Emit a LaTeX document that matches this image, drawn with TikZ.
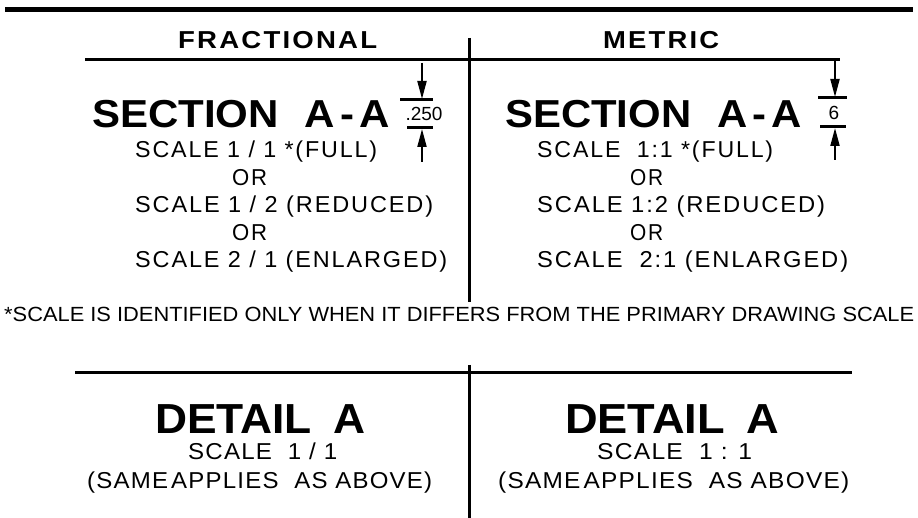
\documentclass[tikz,border=0pt]{standalone}
\usepackage{graphicx}
\usepackage{fontspec}
\setmainfont{Liberation Sans}
\newfontfamily\sparse[LetterSpace=8]{Liberation Sans}
\newfontfamily\lsparse[LetterSpace=5]{Liberation Sans}
\newfontfamily\hsparse[LetterSpace=8]{Liberation Sans}
\usetikzlibrary{arrows.meta}
\newsavebox\fitbox
\newcommand\fitw[2]{\sbox\fitbox{#2}\pgfmathsetmacro\fitfac{#1/\the\wd\fitbox}\scalebox{\fitfac}[1]{\usebox\fitbox}}
\newcommand\hdrfont{\fontsize{24.5}{25}\selectfont\hsparse\bfseries}
\newcommand\secfont{\fontsize{39}{40}\selectfont\bfseries}
\newcommand\scfont{\fontsize{23}{23}\selectfont\sparse}
\newcommand\dimfont{\fontsize{19}{19}\selectfont}
\newcommand\notefont{\fontsize{20.5}{20.5}\selectfont}
\newcommand\detfont{\fontsize{42}{42}\selectfont\bfseries}
\newcommand\lowfont{\fontsize{23}{23}\selectfont\lsparse}
\begin{document}
\begin{tikzpicture}[x=1pt,y=-1pt,
  txt/.style={inner sep=0pt, anchor=base west},
  heavy/.style={line width=5pt},
  rulel/.style={line width=3pt},
  dimtick/.style={line width=3pt},
  dimarrow/.style={line width=2pt, -{Triangle[length=18pt,width=9pt]}}]
\useasboundingbox (0,0) rectangle (918,518);
% rules
\coordinate (t1) at (5,10); \coordinate (t2) at (913,10);
\draw[heavy] (t1) -- (t2);
\coordinate (h1) at (85,60); \coordinate (h2) at (840,60);
\draw[rulel] (h1) -- (h2);
\coordinate (v1) at (469,38); \coordinate (v2) at (469,302);
\draw[rulel] (v1) -- (v2);
\coordinate (b1) at (75,373); \coordinate (b2) at (852,373);
\draw[rulel] (b1) -- (b2);
\coordinate (w1) at (469,365); \coordinate (w2) at (469,520);
\draw[rulel] (w1) -- (w2);
% headers
\node[txt] (frac) at (178,49) {\fitw{199}{\hdrfont FRACTIONAL}};
\node[txt] (metr) at (603,49) {\fitw{116}{\hdrfont METRIC}};
% section titles
\node[txt] (secL) at (92,128) {\fitw{298}{\secfont SECTION\hspace{24pt}A\kern5pt-\kern5pt A}};
\node[txt] (secR) at (505,128) {\fitw{297}{\secfont SECTION\hspace{24pt}A\kern5pt-\kern5pt A}};
% dimension left
\coordinate (la0) at (422,63); \coordinate (la1) at (422,99);
\coordinate (lt1a) at (400,100); \coordinate (lt1b) at (433,100);
\coordinate (lt2a) at (407,128); \coordinate (lt2b) at (433,128);
\coordinate (lb0) at (422,162); \coordinate (lb1) at (422,129);
\draw[dimarrow] (la0) -- (la1);
\draw[dimtick] (lt1a) -- (lt1b);
\draw[dimtick] (lt2a) -- (lt2b);
\draw[dimarrow] (lb0) -- (lb1);
\node[inner sep=0pt, anchor=base] (dl) at (424,121) {\dimfont .250};
% dimension right
\coordinate (ra0) at (835,61); \coordinate (ra1) at (835,97);
\coordinate (rt1a) at (818,98); \coordinate (rt1b) at (847,98);
\coordinate (rt2a) at (820,127); \coordinate (rt2b) at (846,127);
\coordinate (rb0) at (835,160); \coordinate (rb1) at (835,128);
\draw[dimarrow] (ra0) -- (ra1);
\draw[dimtick] (rt1a) -- (rt1b);
\draw[dimtick] (rt2a) -- (rt2b);
\draw[dimarrow] (rb0) -- (rb1);
\node[inner sep=0pt, anchor=base] (dr) at (834,120) {\dimfont 6};
% scale lines left
\node[txt] (sl1) at (135,158) {\fitw{242}{\scfont SCALE 1 / 1 *(FULL)}};
\node[txt] (sl2) at (232,186) {\fitw{35}{\scfont OR}};
\node[txt] (sl3) at (135,213) {\fitw{298}{\scfont SCALE 1 / 2 (REDUCED)}};
\node[txt] (sl4) at (232,241) {\fitw{35}{\scfont OR}};
\node[txt] (sl5) at (135,268) {\fitw{312}{\scfont SCALE 2 / 1 (ENLARGED)}};
% scale lines right
\node[txt] (sr1) at (537,158) {\fitw{236}{\scfont SCALE\ \ 1:1 *(FULL)}};
\node[txt] (sr2) at (630,186) {\fitw{33}{\scfont OR}};
\node[txt] (sr3) at (537,213) {\fitw{288}{\scfont SCALE 1:2 (REDUCED)}};
\node[txt] (sr4) at (630,241) {\fitw{33}{\scfont OR}};
\node[txt] (sr5) at (537,268) {\fitw{311}{\scfont SCALE\ \ 2:1 (ENLARGED)}};
% footnote
\node[txt] (note) at (4,322) {\fitw{910}{\notefont *SCALE IS IDENTIFIED ONLY WHEN IT DIFFERS FROM THE PRIMARY DRAWING SCALE}};
% details
\node[txt] (detL) at (155,433) {\fitw{210}{\detfont DETAIL\hspace{20pt}A}};
\node[txt] (detR) at (565,433) {\fitw{214}{\detfont DETAIL\hspace{20pt}A}};
\node[txt] (dsL) at (188,459) {\fitw{149}{\lowfont SCALE\ \ 1 / 1}};
\node[txt] (dsR) at (597,459) {\fitw{155}{\lowfont SCALE\ \ 1 : 1}};
\node[txt] (daL) at (87,488) {\fitw{345}{\lowfont (SAME\kern3pt APPLIES\ \ AS ABOVE)}};
\node[txt] (daR) at (498,488) {\fitw{351}{\lowfont (SAME\kern3pt APPLIES\ \ AS ABOVE)}};
\end{tikzpicture}
\end{document}
